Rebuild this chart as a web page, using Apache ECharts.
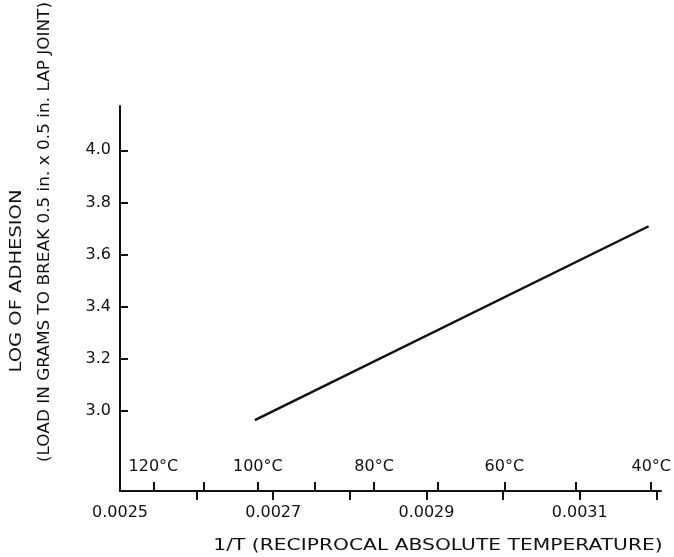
<!DOCTYPE html>
<html>
<head>
<meta charset="utf-8">
<script src="https://cdn.jsdelivr.net/npm/echarts@6/dist/echarts.min.js"></script>
<style>html,body{margin:0;padding:0;background:#fff}#c{width:674px;height:557px}</style>
</head>
<body>
<div id="c"></div>
<script>
// Data
const lineX = [0.002676, 0.00319];          // 1/T
const lineY = [2.966, 3.709];               // log of adhesion
const xTickValues = [0.0026, 0.0027, 0.0028, 0.0029, 0.0030, 0.0031, 0.0032];
const xLabelValues = [0.0025, 0.0027, 0.0029, 0.0031];
const yTickValues = [3.0, 3.2, 3.4, 3.6, 3.8, 4.0];
const tempTicksC = [120, 110, 100, 90, 80, 70, 60, 50, 40];
const tempLabelsC = [120, 100, 80, 60, 40];
const xName = '1/T (RECIPROCAL ABSOLUTE TEMPERATURE)';
const yName1 = 'LOG OF ADHESION';
const yName2 = '(LOAD IN GRAMS TO BREAK 0.5 in. x 0.5 in. LAP JOINT)';

const toInv = c => 1 / (c + 273.15);
const FONT = 'DejaVu Sans';
const chart = echarts.init(document.getElementById('c'), null, {renderer: 'canvas'});
const xMin = 0.0025, xMax = 0.003206, yMin = 2.694, yMax = 4.17;
chart.setOption({
  animation: false,
  backgroundColor: '#fff',
  grid: {left: 120, right: 12, top: 106, bottom: 66},
  xAxis: [{
    type: 'value', min: xMin, max: xMax, position: 'bottom',
    axisLine: {lineStyle: {color: '#111', width: 2}},
    axisTick: {show: true, inside: false, length: 9, lineStyle: {color: '#111', width: 2}, customValues: xTickValues},
    axisLabel: {customValues: xLabelValues, formatter: v => v.toFixed(4), margin: 14,
      color: '#111', fontFamily: FONT, fontSize: 16},
    splitLine: {show: false}
  }, {
    type: 'value', min: xMin, max: xMax, position: 'bottom', offset: 0,
    axisLine: {show: false},
    axisTick: {show: true, inside: true, length: 9, lineStyle: {color: '#111', width: 2}, customValues: tempTicksC.map(toInv)},
    axisLabel: {inside: true, customValues: tempLabelsC.map(toInv),
      formatter: v => Math.round(1 / v - 273.15) + '°C', margin: 16,
      color: '#111', fontFamily: FONT, fontSize: 16},
    splitLine: {show: false}
  }],
  yAxis: {
    type: 'value', min: yMin, max: yMax,
    axisLine: {show: true, lineStyle: {color: '#111', width: 2}},
    axisTick: {show: true, inside: true, length: 8, lineStyle: {color: '#111', width: 2}, customValues: yTickValues},
    axisLabel: {customValues: yTickValues, formatter: v => v.toFixed(1), margin: 9,
      color: '#111', fontFamily: FONT, fontSize: 16},
    splitLine: {show: false}
  },
  series: [{
    type: 'line', xAxisIndex: 0,
    data: lineX.map((x, i) => [x, lineY[i]]),
    symbol: 'none', lineStyle: {color: '#111', width: 2.5}
  }],
  graphic: [
    {type: 'text', x: 438, y: 546, scaleX: 1.35, style: {text: xName, font: '15px "DejaVu Sans"', fill: '#111', align: 'center', verticalAlign: 'middle'}},
    {type: 'text', x: 17, y: 281, rotation: Math.PI / 2, scaleX: 1.3, style: {text: yName1, font: '15px "DejaVu Sans"', fill: '#111', align: 'center', verticalAlign: 'middle'}},
    {type: 'text', x: 45, y: 232, rotation: Math.PI / 2, scaleX: 1.125, style: {text: yName2, font: '15px "DejaVu Sans"', fill: '#111', align: 'center', verticalAlign: 'middle'}}
  ]
});
</script>
</body>
</html>
